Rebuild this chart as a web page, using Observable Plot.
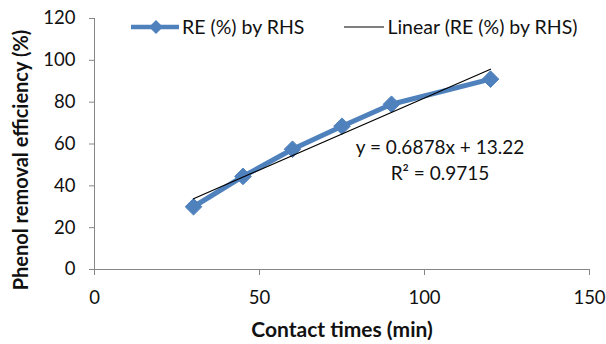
<!DOCTYPE html>
<html>
<head>
<meta charset="utf-8">
<script src="https://cdn.jsdelivr.net/npm/d3@7"></script>
<script src="https://cdn.jsdelivr.net/npm/@observablehq/plot@0.6"></script>
<style>
  html, body { margin: 0; padding: 0; background: #fff; }
  #wrap { position: relative; width: 606px; height: 344px; font-family: Lato, "Open Sans", sans-serif; }
  #legend { position: absolute; top: 15px; left: 131px; font-size: 19.5px; color: #111; display: flex; align-items: center; white-space: nowrap; }
  #legend .item { display: flex; align-items: center; }
  #legend svg { margin-right: 3px; }
</style>
</head>
<body>
<div id="wrap">
  <div id="chart"></div>
  <div id="legend"></div>
</div>
<script>
const contactTimes = [30, 45, 60, 75, 90, 120];
const removalEfficiency = [30, 44.5, 57.5, 68.5, 79, 91];
const seriesName = "RE (%) by RHS";
const trendName = "Linear (RE (%) by RHS)";
const slope = 0.6878;
const intercept = 13.22;
const r2 = 0.9715;
const xTicks = [0, 50, 100, 150];
const yTicks = [0, 20, 40, 60, 80, 100, 120];
const xLabel = "Contact times (min)";
const yLabel = "Phenol removal efficiency (%)";

const blue = "#4F81BD";
const data = contactTimes.map((x, i) => ({x, y: removalEfficiency[i]}));
const xExt = d3.extent(contactTimes);
const trend = xExt.map(x => ({x, y: slope * x + intercept}));

const chart = Plot.plot({
  width: 606,
  height: 344,
  marginLeft: 94,
  marginRight: 17,
  marginTop: 18,
  marginBottom: 75,
  style: {fontFamily: "Lato, 'Open Sans', sans-serif", fontSize: "18px", color: "#111", background: "#fff"},
  x: {domain: [0, 150], ticks: xTicks},
  y: {domain: [0, 120], ticks: yTicks},
  marks: [
    Plot.ruleX([0], {stroke: "#868686", strokeWidth: 1}),
    Plot.ruleY([0], {stroke: "#868686", strokeWidth: 1}),
    Plot.axisX({ticks: xTicks, tickSize: 6, tickPadding: 15, stroke: "#868686", strokeOpacity: 1, fill: "#111", fontSize: 18.5, label: null}),
    Plot.axisY({ticks: yTicks, tickSize: 5, tickPadding: 14, stroke: "#868686", strokeOpacity: 1, fill: "#111", fontSize: 18.5, label: null}),
    Plot.text([xLabel], {frameAnchor: "bottom", lineAnchor: "middle", textAnchor: "middle", dy: 61, text: d => d, fontWeight: "bold", fontSize: 21, fill: "#111"}),
    Plot.text([yLabel], {frameAnchor: "left", lineAnchor: "middle", textAnchor: "middle", dx: -73, dy: 16, rotate: -90, text: d => d, fontWeight: "bold", fontSize: 20, fill: "#111"}),
    Plot.line(data, {x: "x", y: "y", stroke: blue, strokeWidth: 5}),
    Plot.dot(data, {x: "x", y: "y", symbol: "diamond2", r: 7.5, fill: blue, stroke: blue, strokeWidth: 1}),
    Plot.line(trend, {x: "x", y: "y", stroke: "#000", strokeWidth: 1.2}),
    Plot.text([`y = ${slope}x + ${intercept}`], {frameAnchor: "top", lineAnchor: "middle", textAnchor: "middle", dx: 98, dy: 129, text: d => d, fontSize: 19, fill: "#111"}),
    Plot.text([`R² = ${r2}`], {frameAnchor: "top", lineAnchor: "middle", textAnchor: "middle", dx: 98, dy: 155, text: d => d, fontSize: 19, fill: "#111"})
  ]
});
document.getElementById("chart").appendChild(chart);

const legend = document.getElementById("legend");
legend.innerHTML = `
  <div class="item" style="margin-right:40px"><svg width="48" height="18"><line x1="0" y1="9" x2="48" y2="9" stroke="${blue}" stroke-width="4.5"/><path d="M25,2 L32,9 L25,16 L18,9 Z" fill="${blue}"/></svg><span>${seriesName}</span></div>
  <div class="item"><svg width="40" height="18"><line x1="0" y1="9" x2="40" y2="9" stroke="#000" stroke-width="1.2"/></svg><span>${trendName}</span></div>`;
</script>
</body>
</html>
